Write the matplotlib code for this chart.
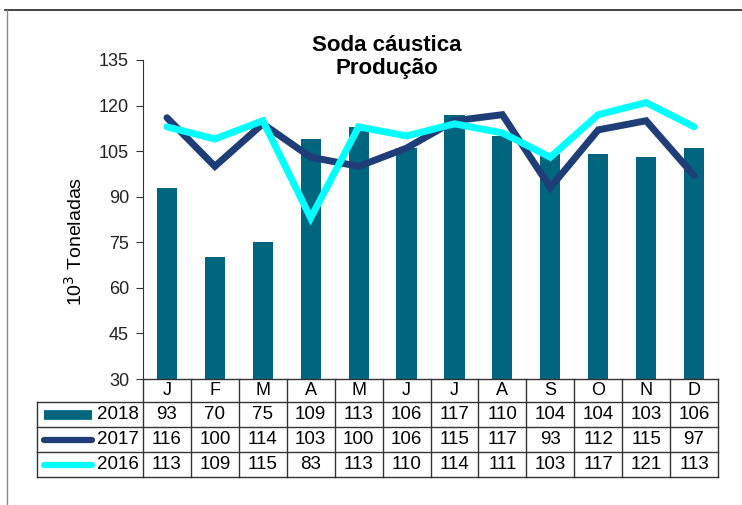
import matplotlib.pyplot as plt
from matplotlib.lines import Line2D
import numpy as np

plt.rcParams["font.family"] = ["Liberation Sans", "DejaVu Sans"]

MONTHS = ["J", "F", "M", "A", "M", "J", "J", "A", "S", "O", "N", "D"]
PROD_2018 = [93, 70, 75, 109, 113, 106, 117, 110, 104, 104, 103, 106]
PROD_2017 = [116, 100, 114, 103, 100, 106, 115, 117, 93, 112, 115, 97]
PROD_2016 = [113, 109, 115, 83, 113, 110, 114, 111, 103, 117, 121, 113]
YEARS = ["2018", "2017", "2016"]

C18 = "#006680"
C17 = "#1f3e78"
C16 = "#00ffff"

W, H = 742, 505


def fx(px):
    return px / W


def fy(py):
    return 1 - py / H


fig = plt.figure(figsize=(W / 100, H / 100), dpi=100)

# chart area
x0, x1, ytop, ybot = 143, 718, 60, 379
ax = fig.add_axes([fx(x0), fy(ybot), fx(x1) - fx(x0), fy(ytop) - fy(ybot)])
x = np.arange(len(MONTHS))
ax.bar(x, np.array(PROD_2018) - 30, bottom=30, width=0.42, color=C18, zorder=1)
ax.plot(x, PROD_2017, color=C17, lw=5, solid_capstyle="round", solid_joinstyle="miter", zorder=2)
ax.plot(x, PROD_2016, color=C16, lw=5, solid_capstyle="round", solid_joinstyle="miter", zorder=3)
ax.set_xlim(-0.5, len(MONTHS) - 0.5)
ax.set_ylim(30, 135)
ax.set_yticks(range(30, 136, 15))
ax.set_xticks([])
for s in ["top", "right", "bottom"]:
    ax.spines[s].set_visible(False)
ax.spines["left"].set_color("#333333")
ax.tick_params(axis="y", labelsize=13, length=5, pad=5, color="#333333", labelcolor="#222222")

fig.text(fx(75), fy(242), "10$^3$ Toneladas", rotation=90, ha="center", va="center", fontsize=14)

fig.text(fx(387), fy(57), "Soda cáustica\nProdução", ha="center",
         va="center", fontsize=16, fontweight="bold", linespacing=1.1)

# data table
colw = (x1 - x0) / len(MONTHS)
rows_y = [379, 402, 427, 452, 477]
lx0 = 37
lk = dict(color="#333333", lw=1.0)
fig.add_artist(Line2D([fx(x0), fx(x1)], [fy(rows_y[0])] * 2, **lk))
for ry in rows_y[1:]:
    fig.add_artist(Line2D([fx(lx0), fx(x1)], [fy(ry)] * 2, **lk))
for i in range(len(MONTHS) + 1):
    cx = x0 + i * colw
    fig.add_artist(Line2D([fx(cx)] * 2, [fy(rows_y[0]), fy(rows_y[-1])], **lk))
fig.add_artist(Line2D([fx(lx0)] * 2, [fy(rows_y[1]), fy(rows_y[-1])], **lk))

for i, m in enumerate(MONTHS):
    cx = x0 + (i + 0.5) * colw
    fig.text(fx(cx), fy((rows_y[0] + rows_y[1]) / 2), m, ha="center", va="center", fontsize=13)
    for r, vals in enumerate([PROD_2018, PROD_2017, PROD_2016]):
        fig.text(fx(cx), fy((rows_y[r + 1] + rows_y[r + 2]) / 2), str(vals[i]),
                 ha="center", va="center", fontsize=13.5)

styles = [(C18, "butt", 7), (C17, "round", 4.5), (C16, "round", 4.5)]
for r, (yr, (c, cap, lw)) in enumerate(zip(YEARS, styles)):
    cy = fy((rows_y[r + 1] + rows_y[r + 2]) / 2)
    fig.add_artist(Line2D([fx(44), fx(92)], [cy, cy], color=c, lw=lw, solid_capstyle=cap))
    fig.text(fx(139), cy, yr, ha="right", va="center", fontsize=13.5)

# outer frame
fig.add_artist(Line2D([fx(5), fx(742)], [fy(10), fy(10)], color="#222222", lw=1.2))
fig.add_artist(Line2D([fx(7), fx(7)], [fy(10), fy(505)], color="#888888", lw=1.0))

fig.savefig("out.png", dpi=100)
